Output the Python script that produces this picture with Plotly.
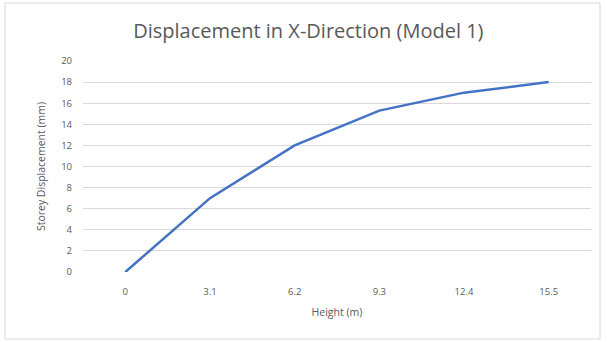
import plotly.graph_objects as go

heights = ["0", "3.1", "6.2", "9.3", "12.4", "15.5"]
displacement = [0, 7.0, 12.0, 15.3, 17.0, 18.0]
y_ticks = [0, 2, 4, 6, 8, 10, 12, 14, 16, 18, 20]

FONT = "Open Sans, sans-serif"
GRAY = "#595959"

fig = go.Figure()
fig.add_trace(go.Scatter(
    x=heights, y=displacement, mode="lines",
    line=dict(color="#4472C4", width=2.5),
    showlegend=False,
))

fig.update_layout(
    width=607, height=342,
    margin=dict(l=83, r=16, t=61, b=70),
    paper_bgcolor="white", plot_bgcolor="white",
    title=dict(text="Displacement in X-Direction (Model 1)", x=0.508, xanchor="center",
               y=0.91, yanchor="middle",
               font=dict(family=FONT, size=20, color=GRAY)),
    font=dict(family=FONT, color=GRAY),
    xaxis=dict(
        type="category", range=[-0.5, 5.5],
        showgrid=False, showline=False, zeroline=False,
        ticks="", tickfont=dict(size=9.5, color=GRAY), ticklabelstandoff=12,
        title=dict(text="Height (m)", font=dict(size=10.5, color=GRAY), standoff=12),
    ),
    yaxis=dict(
        range=[0, 20], tickvals=y_ticks,
        showgrid=True, gridcolor="#d9d9d9", gridwidth=1,
        zeroline=False, showline=False, ticks="",
        tickfont=dict(size=9.5, color=GRAY), ticklabelstandoff=10,
        title=dict(text="Storey Displacement (mm)", font=dict(size=10.5, color=GRAY), standoff=13),
    ),
    shapes=[dict(type="rect", xref="paper", yref="paper",
                 x0=-0.1535, x1=1.0177, y0=-0.3175, y1=1.2749,
                 line=dict(color="#d9d9d9", width=1), fillcolor="rgba(0,0,0,0)", layer="below")],
)

fig.write_html("out.html")
